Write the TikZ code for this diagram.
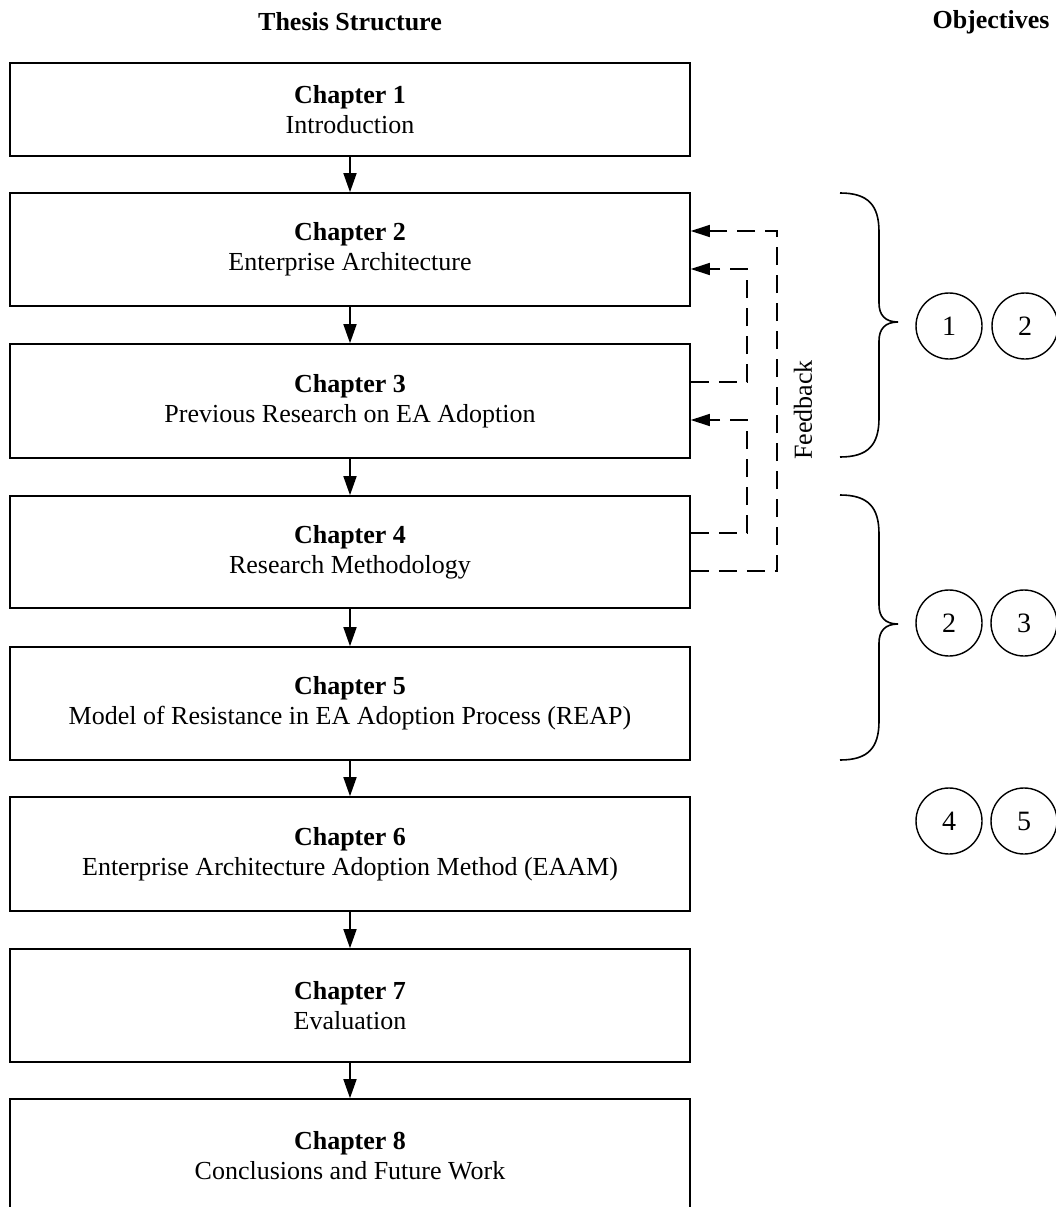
\documentclass[tikz,border=0pt]{standalone}
\usepackage{fontspec}
\setmainfont{Liberation Serif}
\usetikzlibrary{arrows.meta}
\begin{document}
\begin{tikzpicture}[x=1pt,y=-1pt,
  chbox/.style={draw,line width=1.6pt,minimum width=680pt,inner sep=0pt,align=center,
    font=\fontsize{26}{30}\selectfont},
  title/.style={font=\fontsize{26}{30}\selectfont\bfseries},
  flow/.style={line width=1.6pt,-{Triangle[length=19pt,width=13pt]}},
  fb/.style={line width=1.6pt,dash pattern=on 18pt off 10pt,-{Triangle[length=19pt,width=12pt]}},
  fbl/.style={line width=1.6pt,dash pattern=on 18pt off 10pt},
  obj/.style={draw,circle,line width=1.4pt,minimum size=66pt,inner sep=0pt,
    font=\fontsize{28}{30}\selectfont},
  brace/.style={line width=1.6pt}]
\useasboundingbox (0,0) rectangle (1056,1207);
\node[title] (t1) at (350,22) {Thesis Structure};
\node[title] (t2) at (991,22) {Objectives};

\node[chbox,minimum height=93pt] (b1) at (350,109.5) {\textbf{Chapter 1}\\Introduction};
\node[chbox,minimum height=113pt] (b2) at (350,249.5) {\textbf{Chapter 2}\\Enterprise Architecture};
\node[chbox,minimum height=114pt] (b3) at (350,401) {\textbf{Chapter 3}\\Previous Research on EA Adoption};
\node[chbox,minimum height=112pt] (b4) at (350,552) {\textbf{Chapter 4}\\Research Methodology};
\node[chbox,minimum height=113pt] (b5) at (350,703.5) {\textbf{Chapter 5}\\Model of Resistance in EA Adoption Process (REAP)};
\node[chbox,minimum height=114pt] (b6) at (350,854) {\textbf{Chapter 6}\\Enterprise Architecture Adoption Method (EAAM)};
\node[chbox,minimum height=113pt] (b7) at (350,1005.5) {\textbf{Chapter 7}\\Evaluation};
\node[chbox,minimum height=114pt] (b8) at (350,1156) {\textbf{Chapter 8}\\Conclusions and Future Work};

\draw[flow] (b1) -- (b2);
\draw[flow] (b2) -- (b3);
\draw[flow] (b3) -- (b4);
\draw[flow] (b4) -- (b5);
\draw[flow] (b5) -- (b6);
\draw[flow] (b6) -- (b7);
\draw[flow] (b7) -- (b8);

% feedback
\coordinate (inner) at (747,0);
\coordinate (outer) at (777,0);
\coordinate (f2a) at ([yshift=18.5pt]b2.east);
\coordinate (f2b) at ([yshift=-19.5pt]b2.east);
\coordinate (f3o) at ([yshift=19pt]b3.east);
\coordinate (f3i) at ([yshift=-19pt]b3.east);
\coordinate (f4a) at ([yshift=19pt]b4.east);
\coordinate (f4b) at ([yshift=-19pt]b4.east);
\draw[fb] (f3o) -- (f3o -| inner) |- (f2b);
\draw[fb] (f4a) -- (f4a -| inner) |- (f3i);
\draw[fb] (f4b) -- (f4b -| outer) |- (f2a);
\node[rotate=90,font=\fontsize{26}{30}\selectfont] (fbt) at (803,410) {Feedback};

% braces
\draw[brace] (840,193) .. controls (868,193) and (879,205) .. (879,232) -- (879,303)
  .. controls (879,315) and (885,322) .. (898,322)
  .. controls (885,322) and (879,329) .. (879,341) -- (879,418)
  .. controls (879,445) and (868,457) .. (840,457);
\draw[brace] (840,495) .. controls (868,495) and (879,507) .. (879,534) -- (879,605)
  .. controls (879,617) and (885,624) .. (898,624)
  .. controls (885,624) and (879,631) .. (879,643) -- (879,721)
  .. controls (879,748) and (868,760) .. (840,760);

% objectives
\node[obj] (o1) at (949,326) {1};
\node[obj] (o2) at (1025,326) {2};
\node[obj] (o3) at (949,623) {2};
\node[obj] (o4) at (1024,623) {3};
\node[obj] (o5) at (949,821) {4};
\node[obj] (o6) at (1024,821) {5};
\end{tikzpicture}
\end{document}
